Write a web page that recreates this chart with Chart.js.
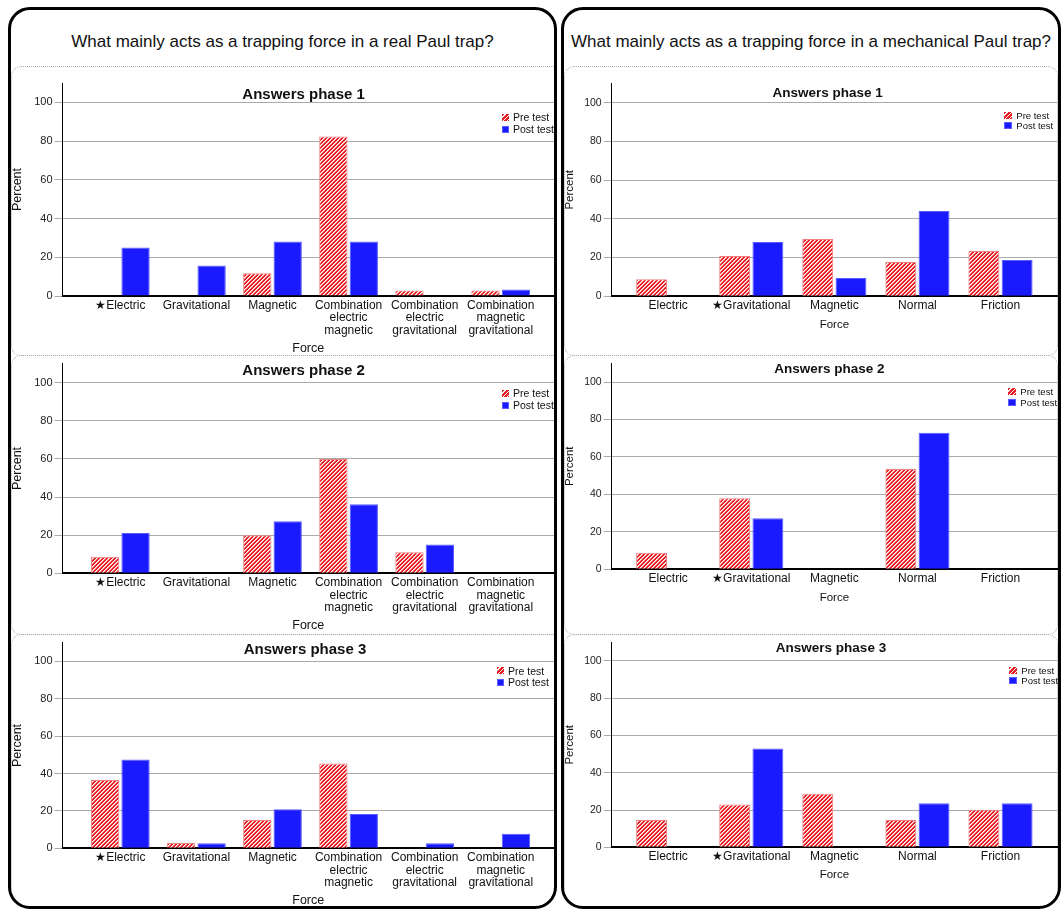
<!DOCTYPE html>
<html>
<head>
<meta charset="utf-8">
<title>Paul trap answers</title>
<script src="https://cdn.jsdelivr.net/npm/chart.js@4.4.1/dist/chart.umd.min.js"></script>
<style>
  html, body { margin: 0; padding: 0; background: #fff; }
  body { width: 1062px; height: 909px; position: relative; overflow: hidden;
         font-family: "Liberation Sans", Arial, sans-serif; color: #111; }
  .panel { position: absolute; top: 7px; height: 902px; border: 3px solid #000; border-radius: 22px;
           overflow: hidden; box-sizing: border-box; background: #fff; }
  #leftPanel { left: 8px; width: 549px; }
  #rightPanel { left: 561px; width: 500px; }
  .q-title { position: absolute; left: 0; right: 0; top: 22px; text-align: center;
             font-size: 17px; line-height: 20px; white-space: nowrap; }
  .section { position: absolute; border: 1px dotted #aaa; border-radius: 10px; box-sizing: border-box; }
  .chart-box { position: absolute; }
  .chart-box canvas { display: block; }
  .chart-title { position: absolute; font-weight: bold; white-space: nowrap; transform: translate(-50%, -50%); line-height: 1; }
  .legend-row { position: absolute; display: flex; align-items: center; white-space: nowrap; }
  .sw { display: inline-block; box-sizing: border-box; margin-right: 4px; }
  .sw-pre { background: repeating-linear-gradient(135deg, #e61e24 0 2px, #fff 2px 3px); }
  .sw-post { background: #1a1aff; border: 1px solid #5b5bff; }
</style>
</head>
<body>
<div class="panel" id="leftPanel">
  <div class="q-title">What mainly acts as a trapping force in a real Paul trap?</div>
</div>
<div class="panel" id="rightPanel">
  <div class="q-title">What mainly acts as a trapping force in a mechanical Paul trap?</div>
</div>

<script>
// ── 데이터 ──
var realForces = [
  ['★Electric'], ['Gravitational'], ['Magnetic'],
  ['Combination', 'electric', 'magnetic'],
  ['Combination', 'electric', 'gravitational'],
  ['Combination', 'magnetic', 'gravitational']
];
var mechForces = [['Electric'], ['★Gravitational'], ['Magnetic'], ['Normal'], ['Friction']];
var percentTicks = [0, 20, 40, 60, 80, 100];
var seriesNames = ['Pre test', 'Post test'];

// real Paul trap
var realPre1  = [0, 0, 11.8, 82.4, 2.9, 2.9];
var realPost1 = [25, 15.7, 28.1, 28.1, 0, 3.3];
var realPre2  = [8.7, 0, 20, 60, 11, 0];
var realPost2 = [21.1, 0, 27.3, 36.2, 15.1, 0];
var realPre3  = [36.5, 2.8, 15.1, 45.4, 0, 0];
var realPost3 = [47.5, 2.7, 20.9, 18.3, 2.7, 7.8];

// mechanical Paul trap
var mechPre1  = [8.8, 20.8, 29.6, 17.7, 23.4];
var mechPost1 = [0, 28, 9.4, 44, 18.8];
var mechPre2  = [8.9, 37.9, 0, 53.5, 0];
var mechPost2 = [0, 27.3, 0, 72.9, 0];
var mechPre3  = [14.6, 23, 28.8, 14.6, 20.2];
var mechPost3 = [0, 53, 0, 23.6, 23.6];

// ── 레이아웃 (페이지 좌표) ──
var panels = {
  left:  { el: 'leftPanel',  originX: 11,  originY: 10, canvasW: 543, yAxisW: 51.5, padRight: 0,
           xMin: -0.76, xMax: 5.70, titleSize: 15, legendSize: 10.5, legendRow: 12, swatch: 7,
           tickSize: 11, axisTitleSize: 12.5, sectionW: 570 },
  right: { el: 'rightPanel', originX: 564, originY: 10, canvasW: 494, yAxisW: 47.7, padRight: 1,
           xMin: -0.68, xMax: 4.68, titleSize: 13.5, legendSize: 9.5, legendRow: 10.5, swatch: 8,
           tickSize: 10.5, axisTitleSize: 11.5, sectionW: 494 }
};

var charts = [
  { panel: 'left', forces: realForces, pre: realPre1, post: realPost1, title: 'Answers phase 1',
    top: 66, h: 290, padTop: 17, xAxisH: 60, forcePad: 1.45, tx: 303.6, ty: 92.7, lx: 502, ly: [117.3, 129.3] },
  { panel: 'left', forces: realForces, pre: realPre2, post: realPost2, title: 'Answers phase 2',
    top: 355, h: 280, padTop: 4.6, xAxisH: 61.7, forcePad: 2.75, tx: 303.6, ty: 369, lx: 502, ly: [393.3, 405] },
  { panel: 'left', forces: realForces, pre: realPre3, post: realPost3, title: 'Answers phase 3',
    top: 634, h: 275, padTop: 3.5, xAxisH: 60.7, forcePad: 1.75, tx: 305, ty: 647.7, lx: 497, ly: [670.7, 682.3], last: true },
  { panel: 'right', forces: mechForces, pre: mechPre1, post: mechPost1, title: 'Answers phase 1',
    top: 66, h: 290, padTop: 17.3, xAxisH: 59.7, forcePad: 25.25, tx: 827.7, ty: 93, lx: 1004.3, ly: [115.7, 125.7] },
  { panel: 'right', forces: mechForces, pre: mechPre2, post: mechPost2, title: 'Answers phase 2',
    top: 355, h: 280, padTop: 4.6, xAxisH: 65.7, forcePad: 30.95, tx: 829.3, ty: 369.3, lx: 1008.3, ly: [391.7, 402.3] },
  { panel: 'right', forces: mechForces, pre: mechPre3, post: mechPost3, title: 'Answers phase 3',
    top: 634, h: 275, padTop: 3.7, xAxisH: 61.7, forcePad: 28.25, tx: 831, ty: 647.7, lx: 1009.3, ly: [670.7, 680.7], last: true }
];

var FONT = '"Liberation Sans", Arial, sans-serif';
var BLUE = '#1a1aff';
Chart.defaults.font.family = FONT;

// ── 빗금 패턴 타일 ──
var hatchTile = document.createElement('canvas');
hatchTile.width = 4; hatchTile.height = 4;
(function() {
  var g = hatchTile.getContext('2d');
  var img = g.createImageData(4, 4);
  for (var y = 0; y < 4; y++) {
    for (var x = 0; x < 4; x++) {
      var k = (x + y) % 4;
      var c = k === 0 ? [255, 255, 255] : (k === 1 ? [246, 170, 170] : [232, 30, 36]);
      var p = (y * 4 + x) * 4;
      img.data[p] = c[0]; img.data[p + 1] = c[1]; img.data[p + 2] = c[2]; img.data[p + 3] = 255;
    }
  }
  g.putImageData(img, 0, 0);
})();

function px(v) { return v + 'px'; }

function addDiv(parent, cls, x, y, w, h) {
  var d = document.createElement('div');
  d.className = cls;
  d.style.left = px(x); d.style.top = px(y);
  if (w != null) d.style.width = px(w);
  if (h != null) d.style.height = px(h);
  parent.appendChild(d);
  return d;
}

// ── 차트 생성 ──
function buildChart(c) {
  var P = panels[c.panel];
  var host = document.getElementById(P.el);
  var ox = P.originX, oy = P.originY;

  // 점선 구역
  addDiv(host, 'section', 0, c.top - oy, P.sectionW, c.last ? c.h + 40 : c.h);

  var box = addDiv(host, 'chart-box', 0, c.top - oy, P.canvasW, c.h);
  var canvas = document.createElement('canvas');
  canvas.width = P.canvasW; canvas.height = c.h;
  box.appendChild(canvas);

  var ctx = canvas.getContext('2d');
  var hatch = ctx.createPattern(hatchTile, 'repeat');
  var forces = c.forces;

  new Chart(ctx, {
    type: 'bar',
    data: {
      labels: forces.map(function(_, i) { return i; }),
      datasets: [
        { label: seriesNames[0], data: c.pre, backgroundColor: hatch, borderColor: '#f08080',
          borderWidth: 1, barPercentage: 0.93, categoryPercentage: 0.8 },
        { label: seriesNames[1], data: c.post, backgroundColor: BLUE, borderColor: '#5b5bff',
          borderWidth: 1, barPercentage: 0.93, categoryPercentage: 0.8 }
      ]
    },
    options: {
      responsive: false,
      animation: false,
      layout: { padding: { top: c.padTop, right: P.padRight, left: 0, bottom: 0 } },
      plugins: { legend: { display: false }, tooltip: { enabled: false }, title: { display: false } },
      scales: {
        x: {
          type: 'linear',
          offset: false,
          min: P.xMin,
          max: P.xMax,
          grid: { display: false, drawTicks: false, tickLength: 0, offset: false },
          border: { display: true, color: '#000', width: 2 },
          afterBuildTicks: function(s) { s.ticks = forces.map(function(_, i) { return { value: i }; }); },
          afterFit: function(s) { s.height = c.xAxisH; },
          ticks: {
            autoSkip: false, maxRotation: 0, minRotation: 0, padding: 3, color: '#111',
            font: { size: 12, lineHeight: 1.05 },
            callback: function(v) { return forces[v]; }
          },
          title: {
            display: true, text: 'Force', color: '#111',
            font: { size: P.axisTitleSize, lineHeight: 1 },
            padding: { top: 0, bottom: c.forcePad }
          }
        },
        y: {
          min: 0,
          max: 110,
          afterBuildTicks: function(s) { s.ticks = percentTicks.map(function(v) { return { value: v }; }); },
          afterFit: function(s) { s.width = P.yAxisW; },
          grid: { color: '#aaa', lineWidth: 1, drawTicks: true, tickLength: 8 },
          border: { display: true, color: '#000', width: 1 },
          ticks: { padding: 2, color: '#222', font: { size: P.tickSize } },
          title: {
            display: true, text: 'Percent', color: '#111',
            font: { size: P.axisTitleSize, lineHeight: 1 },
            padding: 0
          }
        }
      }
    }
  });

  // 차트 제목
  var t = addDiv(host, 'chart-title', c.tx - ox, c.ty - oy);
  t.style.fontSize = px(P.titleSize);
  t.textContent = c.title;

  // 범례
  seriesNames.forEach(function(name, i) {
    var row = addDiv(host, 'legend-row', c.lx - ox, c.ly[i] - oy - P.legendRow / 2, null, P.legendRow);
    row.style.fontSize = px(P.legendSize);
    var sw = document.createElement('span');
    sw.className = 'sw ' + (i === 0 ? 'sw-pre' : 'sw-post');
    sw.style.width = px(P.swatch); sw.style.height = px(P.swatch - (c.panel === 'right' ? 1 : 0));
    row.appendChild(sw);
    var txt = document.createElement('span');
    txt.textContent = name;
    row.appendChild(txt);
  });
}

charts.forEach(buildChart);
</script>
</body>
</html>
